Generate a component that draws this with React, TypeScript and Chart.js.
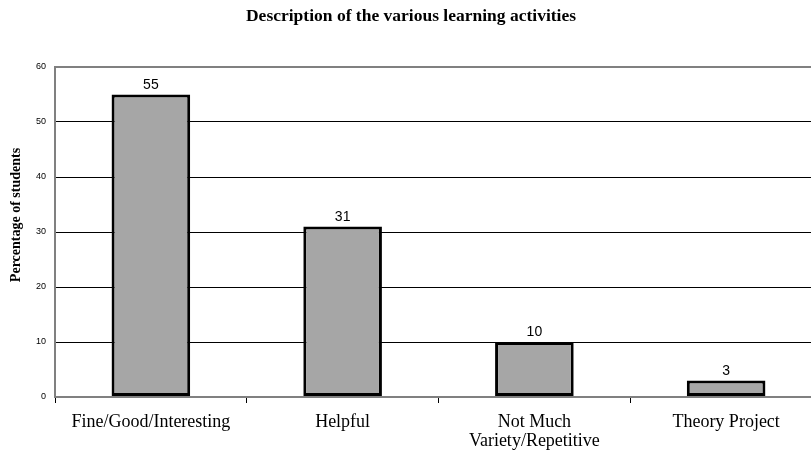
import React, { useEffect, useRef } from "react";
import { Chart, registerables } from "chart.js";

Chart.register(...registerables);

const categories: (string | string[])[] = [
  "Fine/Good/Interesting",
  "Helpful",
  ["Not Much", "Variety/Repetitive"],
  "Theory Project",
];
const percentages = [55, 31, 10, 3];
const yTicks = [0, 10, 20, 30, 40, 50, 60];
const chartTitle = "Description of the various learning activities";
const yTitle = "Percentage of students";

const SERIF = "'Liberation Serif', 'DejaVu Serif', serif";
const SANS = "'Liberation Sans', Arial, sans-serif";

const labelPlugin = {
  id: "extras",
  afterDatasetsDraw(chart: any) {
    const ctx = chart.ctx;
    const meta = chart.getDatasetMeta(0);
    ctx.save();
    ctx.fillStyle = "#000";
    ctx.font = `14px ${SANS}`;
    ctx.textAlign = "center";
    ctx.textBaseline = "alphabetic";
    meta.data.forEach((el: any, i: number) => {
      ctx.fillText(String(percentages[i]), el.x, el.y - 6);
    });
    ctx.restore();
    // y axis title
    ctx.save();
    ctx.translate(16, 215);
    ctx.rotate(-Math.PI / 2);
    ctx.font = `bold 14px ${SERIF}`;
    ctx.fillStyle = "#000";
    ctx.textAlign = "center";
    ctx.textBaseline = "middle";
    ctx.fillText(yTitle, 0, 0);
    ctx.restore();
  },
};

export default function App() {
  const ref = useRef<HTMLCanvasElement>(null);
  useEffect(() => {
    if (!ref.current) return;
    const chart = new Chart(ref.current, {
      type: "bar",
      data: {
        labels: categories,
        datasets: [
          {
            data: percentages,
            backgroundColor: "#a6a6a6",
            borderColor: "#000",
            borderWidth: 3,
            borderSkipped: false,
            categoryPercentage: 1,
            barPercentage: 0.41,
          },
        ],
      },
      options: {
        responsive: false,
        animation: false,
        layout: { padding: { top: 67, left: 0, right: 8, bottom: 0 } },
        plugins: {
          legend: { display: false },
          tooltip: { enabled: false },
          title: { display: false },
        },
        scales: {
          x: {
            offset: true,
            afterFit: (s: any) => {
              s.height = 57;
            },
            grid: {
              offset: true,
              drawOnChartArea: false,
              drawTicks: true,
              tickLength: 6,
              color: "#000",
            },
            border: { display: true, color: "#808080", width: 2 },
            ticks: {
              color: "#000",
              font: { family: SERIF, size: 18, lineHeight: 1.1 },
              padding: 9,
              maxRotation: 0,
            },
          },
          y: {
            min: 0,
            max: 60,
            afterFit: (s: any) => {
              s.width = 55;
            },
            afterBuildTicks: (s: any) => {
              s.ticks = yTicks.map((v) => ({ value: v }));
            },
            grid: {
              drawTicks: false,
              color: (c: any) =>
                c.tick && (c.tick.value === 0 || c.tick.value === 60) ? "#808080" : "#000",
              lineWidth: (c: any) =>
                c.tick && (c.tick.value === 0 || c.tick.value === 60) ? 2 : 1,
            },
            border: { display: true, color: "#808080", width: 2 },
            ticks: {
              color: "#000",
              font: { family: SANS, size: 9 },
              padding: 9,
            },
          },
        },
      },
      plugins: [
        labelPlugin,
        {
          id: "ttl",
          afterDraw(chart: any) {
            const ctx = chart.ctx;
            ctx.save();
            ctx.font = `bold 17.5px ${SERIF}`;
            ctx.fillStyle = "#000";
            ctx.textAlign = "center";
            ctx.textBaseline = "alphabetic";
            ctx.fillText(chartTitle, 411, 21);
            ctx.restore();
          },
        },
      ],
    });
    return () => chart.destroy();
  }, []);
  return (
    <div
      style={{
        position: "fixed",
        left: 0,
        top: 0,
        width: 811,
        height: 454,
        overflow: "hidden",
        background: "#fff",
      }}
    >
      <canvas ref={ref} width={830} height={454} style={{ display: "block" }} />
    </div>
  );
}
